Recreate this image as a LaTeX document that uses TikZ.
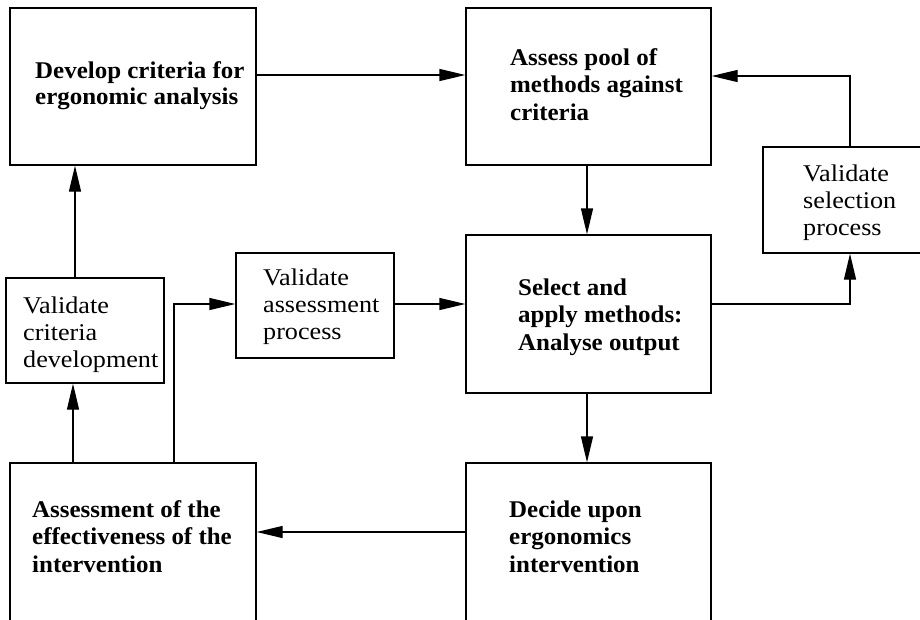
\documentclass[tikz,border=0pt]{standalone}
\usepackage{fontspec}
\setmainfont{Liberation Serif}
\newfontfamily\boldwide[FakeStretch=1.04]{Liberation Serif}
\newfontfamily\regwide[FakeStretch=1.09]{Liberation Serif}
\usetikzlibrary{arrows.meta}
\begin{document}
\begin{tikzpicture}[x=1pt,y=-1pt,
  box/.style={draw,line width=1.3pt,rectangle,inner sep=0pt},
  bt/.style={anchor=base west,align=left,inner sep=0pt,font=\boldwide\fontsize{24}{27.5}\selectfont\bfseries},
  rt/.style={anchor=base west,align=left,inner sep=0pt,font=\regwide\fontsize{24}{26.8}\selectfont},
  conn/.style={line width=1.3pt,-{Triangle[length=26pt,width=12pt]}}]
\clip (0,0) rectangle (920,619);
\useasboundingbox (0,0) rectangle (920,619);
% boxes
\node[box,minimum width=246pt,minimum height=157pt] (A) at (133,86.5) {};
\node[box,minimum width=245pt,minimum height=157pt] (B) at (588.5,86.5) {};
\node[box,minimum width=245pt,minimum height=158pt] (C) at (588.5,314) {};
\node[box,minimum width=170pt,minimum height=106pt] (VS) at (848,200) {};
\node[box,minimum width=158pt,minimum height=105pt] (VC) at (85,330.5) {};
\node[box,minimum width=158pt,minimum height=105pt] (VA) at (315,305.5) {};
\node[box,minimum width=246pt,minimum height=200pt] (E) at (133,563) {};
\node[box,minimum width=245pt,minimum height=200pt] (D) at (588.5,563) {};
% texts (anchor = baseline of last line)
\node[bt,font=\boldwide\fontsize{24}{26}\selectfont\bfseries] (tA) at (35,104) {Develop criteria for\\ergonomic analysis};
\node[bt] (tB) at (510,120) {Assess pool of\\methods against\\criteria};
\node[bt] (tC) at (518,350) {Select and\\apply methods:\\Analyse output};
\node[bt] (tD) at (509,572) {Decide upon\\ergonomics\\intervention};
\node[bt] (tE) at (32,572) {Assessment of the\\effectiveness of the\\intervention};
\node[rt] (tVS) at (803,235) {Validate\\selection\\process};
\node[rt] (tVC) at (23,367) {Validate\\criteria\\development};
\node[rt] (tVA) at (263,339) {Validate\\assessment\\process};
% helper coordinates
\coordinate (a1) at (A.east |- 0,75);
\coordinate (b1) at (B.west |- 0,75);
\coordinate (b2) at (B.east |- 0,76);
\coordinate (vsT) at (VS.north -| 850,0);
\coordinate (vsB) at (VS.south -| 850,0);
\coordinate (c1) at (C.east |- 0,304);
\coordinate (c2) at (C.west |- 0,304);
\coordinate (vaR) at (VA.east |- 0,304);
\coordinate (vaL) at (VA.west |- 0,304);
\coordinate (eT) at (E.north -| 174,0);
\coordinate (eT2) at (E.north -| 73,0);
\coordinate (vcB) at (VC.south -| 73,0);
\coordinate (vcT) at (VC.north -| 75,0);
\coordinate (aB) at (A.south -| 75,0);
\coordinate (d1) at (D.west |- 0,532);
\coordinate (e1) at (E.east |- 0,532);
% connectors
\draw[conn] (a1) -- (b1);
\draw[conn] (B.south -| 587,0) -- (C.north -| 587,0);
\draw[conn] (C.south -| 587,0) -- (D.north -| 587,0);
\draw[conn] (vsT) |- (b2);
\draw[conn] (c1) -| (vsB);
\draw[conn] (vaR) -- (c2);
\draw[conn] (eT) |- (vaL);
\draw[conn] (eT2) -- (vcB);
\draw[conn] (vcT) -- (aB);
\draw[conn] (d1) -- (e1);
\end{tikzpicture}
\end{document}
